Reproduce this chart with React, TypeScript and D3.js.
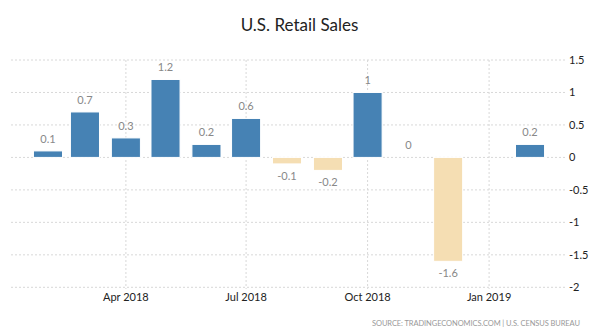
import React from "react";
import * as d3 from "d3";

const months = [
  "2018-02-01", "2018-03-01", "2018-04-01", "2018-05-01", "2018-06-01", "2018-07-01",
  "2018-08-01", "2018-09-01", "2018-10-01", "2018-11-01", "2018-12-01", "2019-02-01",
];
const values = [0.1, 0.7, 0.3, 1.2, 0.2, 0.6, -0.1, -0.2, 1, 0, -1.6, 0.2];
const xTickDates = ["2018-04-01", "2018-07-01", "2018-10-01", "2019-01-01"];
const yTicks = [1.5, 1, 0.5, 0, -0.5, -1, -1.5, -2];

const W = 598, H = 336;
const parse = d3.utcParse("%Y-%m-%d");

export default function App() {
  const x = d3.scaleUtc()
    .domain([parse("2018-01-04")!, parse("2019-03-01")!])
    .range([11, 567]);
  const y = d3.scaleLinear().domain([-2, 1.5]).range([287.3, 60]);
  const fmt = d3.utcFormat("%b %Y");
  const day = 86400000;
  const font = "Lato, 'Open Sans', sans-serif";

  return (
    <svg width={W} height={H} style={{ position: "absolute", left: 0, top: 0, background: "#fff" }}>
      <text x={299.5} y={31} textAnchor="middle" fontFamily={font} fontSize={17} fill="#222">U.S. Retail Sales</text>
      {yTicks.map((t) => (
        <g key={t}>
          <line x1={11} x2={567} y1={y(t)} y2={y(t)} stroke="#d8d8d8" strokeDasharray="2,2" />
          <text x={569} y={y(t) + 4} fontFamily={font} fontSize={11} fill="#222">{t}</text>
        </g>
      ))}
      {xTickDates.map((s) => {
        const d = parse(s)!;
        return (
          <g key={s}>
            <line x1={x(d)} x2={x(d)} y1={60} y2={289} stroke="#d8d8d8" strokeDasharray="2,2" />
            <text x={x(d)} y={300.5} textAnchor="middle" fontFamily={font} fontSize={11} fill="#222">{fmt(d)}</text>
          </g>
        );
      })}
      {months.map((s, i) => {
        const d = parse(s)!;
        const v = values[i];
        const x0 = x(new Date(d.getTime() - 11 * day));
        const x1 = x(new Date(d.getTime() + 11 * day));
        const yTop = y(Math.max(0, v));
        const yBot = y(Math.min(0, v));
        const cx = x(d);
        return (
          <g key={s}>
            {v !== 0 && (
              <rect x={x0} y={yTop} width={x1 - x0} height={yBot - yTop}
                fill={v >= 0 ? "#4682b4" : "#f5deb3"} stroke="#fff" strokeWidth={1} />
            )}
            <text x={cx} y={v >= 0 ? yTop - 8 : yBot + 16} textAnchor="middle"
              fontFamily={font} fontSize={11} fill="#888">{v}</text>
          </g>
        );
      })}
      <text x={580} y={326} textAnchor="end" fontFamily={font} fontSize={7.5} fill="#999"
        textLength={208} lengthAdjust="spacing">SOURCE: TRADINGECONOMICS.COM | U.S. CENSUS BUREAU</text>
    </svg>
  );
}
